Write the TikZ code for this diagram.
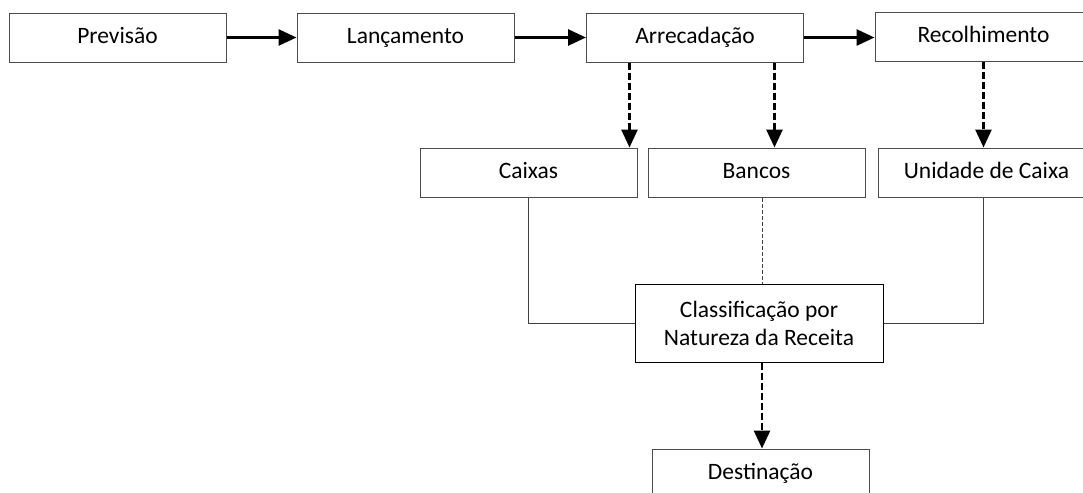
\documentclass[tikz,border=0pt]{standalone}
\usepackage{fontspec}
\setmainfont{Carlito}
\usetikzlibrary{arrows.meta}

\begin{document}
\begin{tikzpicture}[x=0.5pt, y=-0.5pt, >={Triangle[length=9pt,width=8pt]},
  caixa/.style={draw=black!70, line width=0.5pt, minimum width=108.5pt,
    minimum height=24.5pt, inner sep=0pt, align=center,
    font=\fontsize{11.75}{14}\selectfont},
  etapa/.style={caixa, text height=8.5pt, text depth=2.5pt},
  fluxo/.style={->, line width=1.4pt},
  fluxotr/.style={->, line width=1.4pt, dash pattern=on 3.5pt off 1.5pt},
  liga/.style={line width=0.5pt, draw=black!75}]
  \useasboundingbox (0,0) rectangle (1083,493);

  % fases da receita
  \node [etapa] (prev)  at (117.5,37.5) {Previsão};
  \node [etapa] (lanc)  at (405.5,37.5) {Lançamento};
  \node [etapa] (arrec) at (695,37.5)   {Arrecadação};
  \node [etapa] (recol) at (983.5,36.5) {Recolhimento};

  \node [etapa] (caixas) at (528.5,172.5) {Caixas};
  \node [etapa] (bancos) at (756.5,172.5) {Bancos};
  \node [etapa] (unid)   at (986.5,172.5) {Unidade de Caixa};

  \node [caixa, minimum width=124pt, minimum height=39pt, draw=black]
    (classif) at (759,323) {Classificação por\\Natureza da Receita};
  \node [etapa] (dest) at (760.5,473.5) {Destinação};

  \draw [fluxo] (prev)  -- (lanc);
  \draw [fluxo] (lanc)  -- (arrec);
  \draw [fluxo] (arrec) -- (recol.west |- arrec.east);

  \draw [fluxotr] ([xshift=-4pt]arrec.south -| caixas.north east) -- ([xshift=-4pt]caixas.north east);
  \draw [fluxotr] ([xshift=9pt]arrec.south -| bancos.north) -- ([xshift=9pt]bancos.north);
  \draw [fluxotr] (recol.south) -- (recol.south |- unid.north);

  \draw [liga] (caixas.south) |- (classif.west);
  \draw [liga] ([xshift=-1.5pt]unid.south) |- (classif.east);
  \draw [liga, dash pattern=on 2pt off 1pt] ([xshift=1.5pt]classif.north |- bancos.south) -- ([xshift=1.5pt]classif.north);

  \draw [fluxotr] ([xshift=1.5pt]classif.south) -- ([xshift=1.5pt]classif.south |- dest.north);
\end{tikzpicture}
\end{document}
